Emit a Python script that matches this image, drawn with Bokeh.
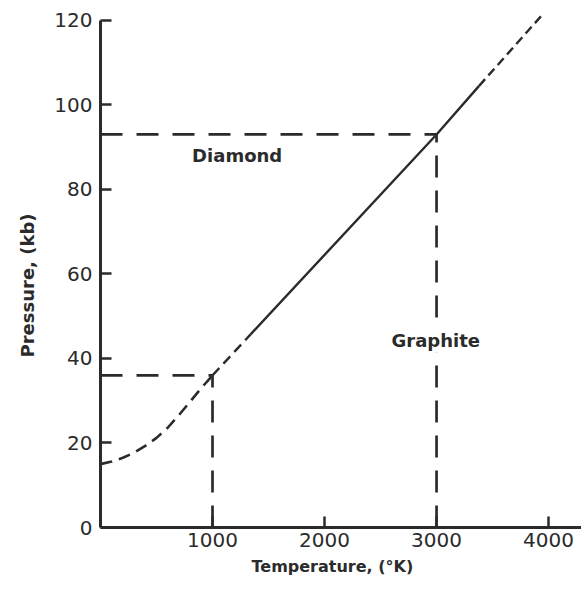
from bokeh.plotting import figure
from bokeh.models import Label, FixedTicker, Title
from bokeh.embed import file_html
from bokeh.resources import INLINE

# ---- data ----
x_ticks = [1000, 2000, 3000, 4000]
y_ticks = [0, 20, 40, 60, 80, 100, 120]

curve_T = [0, 100, 200, 300, 400, 500, 600, 700, 800, 900, 1000]
curve_P = [15.0, 15.6, 16.5, 17.7, 19.3, 21.2, 23.6, 26.6, 29.8, 33.0, 36.0]

low_dash_T = [1000, 1340]
low_dash_P = [36.0, 45.7]

solid_T = [1340, 3000, 3380]
solid_P = [45.7, 93.0, 104.5]

high_dash_T = [3380, 3950]
high_dash_P = [104.5, 121.5]

triple_low_T = 1000
triple_low_P = 36.0
triple_high_T = 3000
triple_high_P = 93.0

label_names = ["Diamond", "Graphite"]
label_T = [1220, 2993]
label_P = [88.0, 44.3]

x_title = "Temperature, (°K)"
y_title = "Pressure, (kb)"

INK = "#2b2b2b"
FONT = "DejaVu Sans"

p = figure(width=581, height=593, output_backend="svg", toolbar_location=None,
           x_range=(0, 4294), y_range=(0, 124.7),
           min_border_left=99, min_border_right=0, min_border_top=0, min_border_bottom=66)
p.outline_line_color = None
p.xgrid.visible = False
p.ygrid.visible = False
p.background_fill_color = "white"
p.border_fill_color = "white"

# reference dashed lines
p.line([0, triple_low_T], [triple_low_P, triple_low_P], line_color=INK, line_width=2.7, line_dash="22 14")
p.line([triple_low_T, triple_low_T], [0, triple_low_P], line_color=INK, line_width=2.7, line_dash="22 13")
p.line([0, triple_high_T], [triple_high_P, triple_high_P], line_color=INK, line_width=2.7, line_dash="22 14")
p.line([triple_high_T, triple_high_T], [0, triple_high_P], line_color=INK, line_width=2.7, line_dash="22 13")

# phase boundary
p.line(curve_T, curve_P, line_color=INK, line_width=2.6, line_dash="12 7")
p.line(low_dash_T, low_dash_P, line_color=INK, line_width=2.4, line_dash="10 6")
p.line(solid_T, solid_P, line_color=INK, line_width=2.4)
p.line(high_dash_T, high_dash_P, line_color=INK, line_width=2.4, line_dash="9 5")

for name, t, pr in zip(label_names, label_T, label_P):
    p.add_layout(Label(x=t, y=pr, text=name, text_align="center", text_baseline="middle",
                       text_font=FONT, text_font_size="18px", text_font_style="bold",
                       text_color=INK, background_fill_color="white", padding=2))

# axes
p.xaxis.ticker = FixedTicker(ticks=x_ticks)
p.yaxis.ticker = FixedTicker(ticks=y_ticks)
p.yaxis.bounds = (0, 120)
for ax in (p.xaxis, p.yaxis):
    ax.axis_line_width = 3
    ax.axis_line_color = INK
    ax.major_tick_line_color = INK
    ax.major_tick_line_width = 2.5
    ax.major_tick_in = 11
    ax.major_tick_out = 0
    ax.minor_tick_line_color = None
    ax.major_label_text_font = FONT
    ax.major_label_text_font_size = "20px"
    ax.major_label_text_color = INK
p.xaxis.major_label_standoff = 5
p.yaxis.major_label_standoff = 8

# axis titles as side titles, offset to match the reference placement
p.add_layout(Title(text=x_title, align="left", offset=151, standoff=10,
                   text_font=FONT, text_font_size="16px", text_font_style="bold",
                   text_color=INK), "below")
p.add_layout(Title(text=y_title, align="left", offset=170, standoff=28,
                   text_font=FONT, text_font_size="18px", text_font_style="bold",
                   text_color=INK), "left")

open("out.html", "w").write(file_html(p, INLINE))
